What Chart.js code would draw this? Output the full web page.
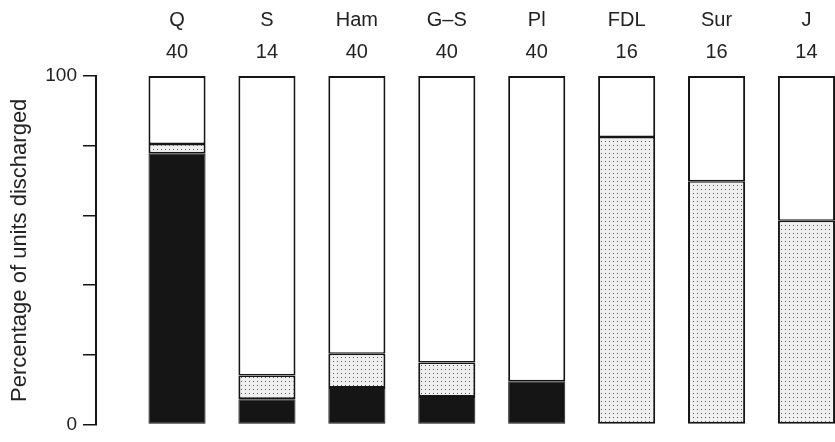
<!DOCTYPE html>
<html>
<head>
<meta charset="utf-8">
<script src="https://cdn.jsdelivr.net/npm/chart.js@4/dist/chart.umd.min.js"></script>
<style>
  body { margin: 0; background: #fff; }
  #wrap { width: 835px; height: 442px; position: relative; }
</style>
</head>
<body>
<div id="wrap"><canvas id="myChart"></canvas></div>
<script>
// muscle groups and number of units in each
const categories = ['Q', 'S', 'Ham', 'G–S', 'Pl', 'FDL', 'Sur', 'J']
const unitCounts = [40, 14, 40, 40, 40, 16, 16, 14]

// percentages (bottom to top)
const blackPart = [77.7, 7.3, 10.5, 7.9, 12.4, null, null, null]
const dottedPart = [2.8, 6.8, 9.8, 9.9, null, 82.5, 69.8, 58.5]
const whitePart = [19.5, 85.9, 79.7, 82.2, 87.6, 17.5, 30.2, 41.5]

const yTicks = [0, 20, 40, 60, 80, 100]

function makeDots() {
    const c = document.createElement('canvas')
    c.width = 4
    c.height = 4
    const g = c.getContext('2d')
    g.fillStyle = '#f0f0f0'
    g.fillRect(0, 0, 4, 4)
    g.fillStyle = '#555'
    g.fillRect(1, 1, 1, 1)
    return g.createPattern(c, 'repeat')
}

function points(values) {
    return values.map((v, i) => ({ x: i, y: v }))
}

const ctx = document.getElementById('myChart')
const dots = makeDots()

new Chart(ctx, {
    type: 'bar',
    data: {
        datasets: [{
            label: 'black',
            data: points(blackPart),
            backgroundColor: '#151515',
            borderColor: '#151515',
            borderWidth: 1,
            borderSkipped: false
        }, {
            label: 'dotted',
            data: points(dottedPart),
            backgroundColor: dots,
            borderColor: '#151515',
            borderWidth: { left: 2, right: 2, top: 1.5, bottom: 2 },
            borderSkipped: false
        }, {
            label: 'white',
            data: points(whitePart),
            backgroundColor: '#ffffff',
            borderColor: '#151515',
            borderWidth: { left: 2, right: 2, top: 2, bottom: 1.5 },
            borderSkipped: false
        }]
    },
    options: {
        responsive: true,
        maintainAspectRatio: false,
        animation: false,
        barPercentage: 0.635,
        categoryPercentage: 1,
        layout: {
            padding: { top: 0, right: 0, bottom: 12, left: 0 }
        },
        scales: {
            x: {
                type: 'linear',
                position: 'top',
                stacked: true,
                offset: false,
                min: -0.901,
                max: 7.317,
                afterBuildTicks: scale => {
                    scale.ticks = categories.map((_, i) => ({ value: i }))
                },
                afterFit: scale => {
                    scale.height = 76
                },
                grid: { display: false, drawTicks: false },
                border: { display: false },
                ticks: {
                    padding: 8,
                    color: '#222',
                    maxRotation: 0,
                    autoSkip: false,
                    font: { family: 'Liberation Sans', size: 20, lineHeight: 1.6 },
                    callback: v => [categories[v], String(unitCounts[v])]
                }
            },
            y: {
                stacked: true,
                min: 0,
                max: 100,
                afterBuildTicks: scale => {
                    scale.ticks = yTicks.map(v => ({ value: v }))
                },
                afterFit: scale => {
                    scale.width = 96
                },
                grid: {
                    drawOnChartArea: false,
                    drawTicks: true,
                    tickLength: 13,
                    color: '#151515',
                    lineWidth: 1.5
                },
                border: { display: true, color: '#151515', width: 2 },
                ticks: {
                    padding: 6,
                    color: '#222',
                    font: { family: 'Liberation Sans', size: 19 },
                    callback: v => (v === 0 || v === 100) ? String(v) : ''
                },
                title: {
                    display: true,
                    text: 'Percentage of units discharged',
                    color: '#222',
                    padding: { top: 7, bottom: 0 },
                    font: { family: 'Liberation Sans', size: 22, weight: 'normal' }
                }
            }
        },
        plugins: {
            legend: { display: false },
            tooltip: { enabled: false }
        }
    }
})
</script>
</body>
</html>
